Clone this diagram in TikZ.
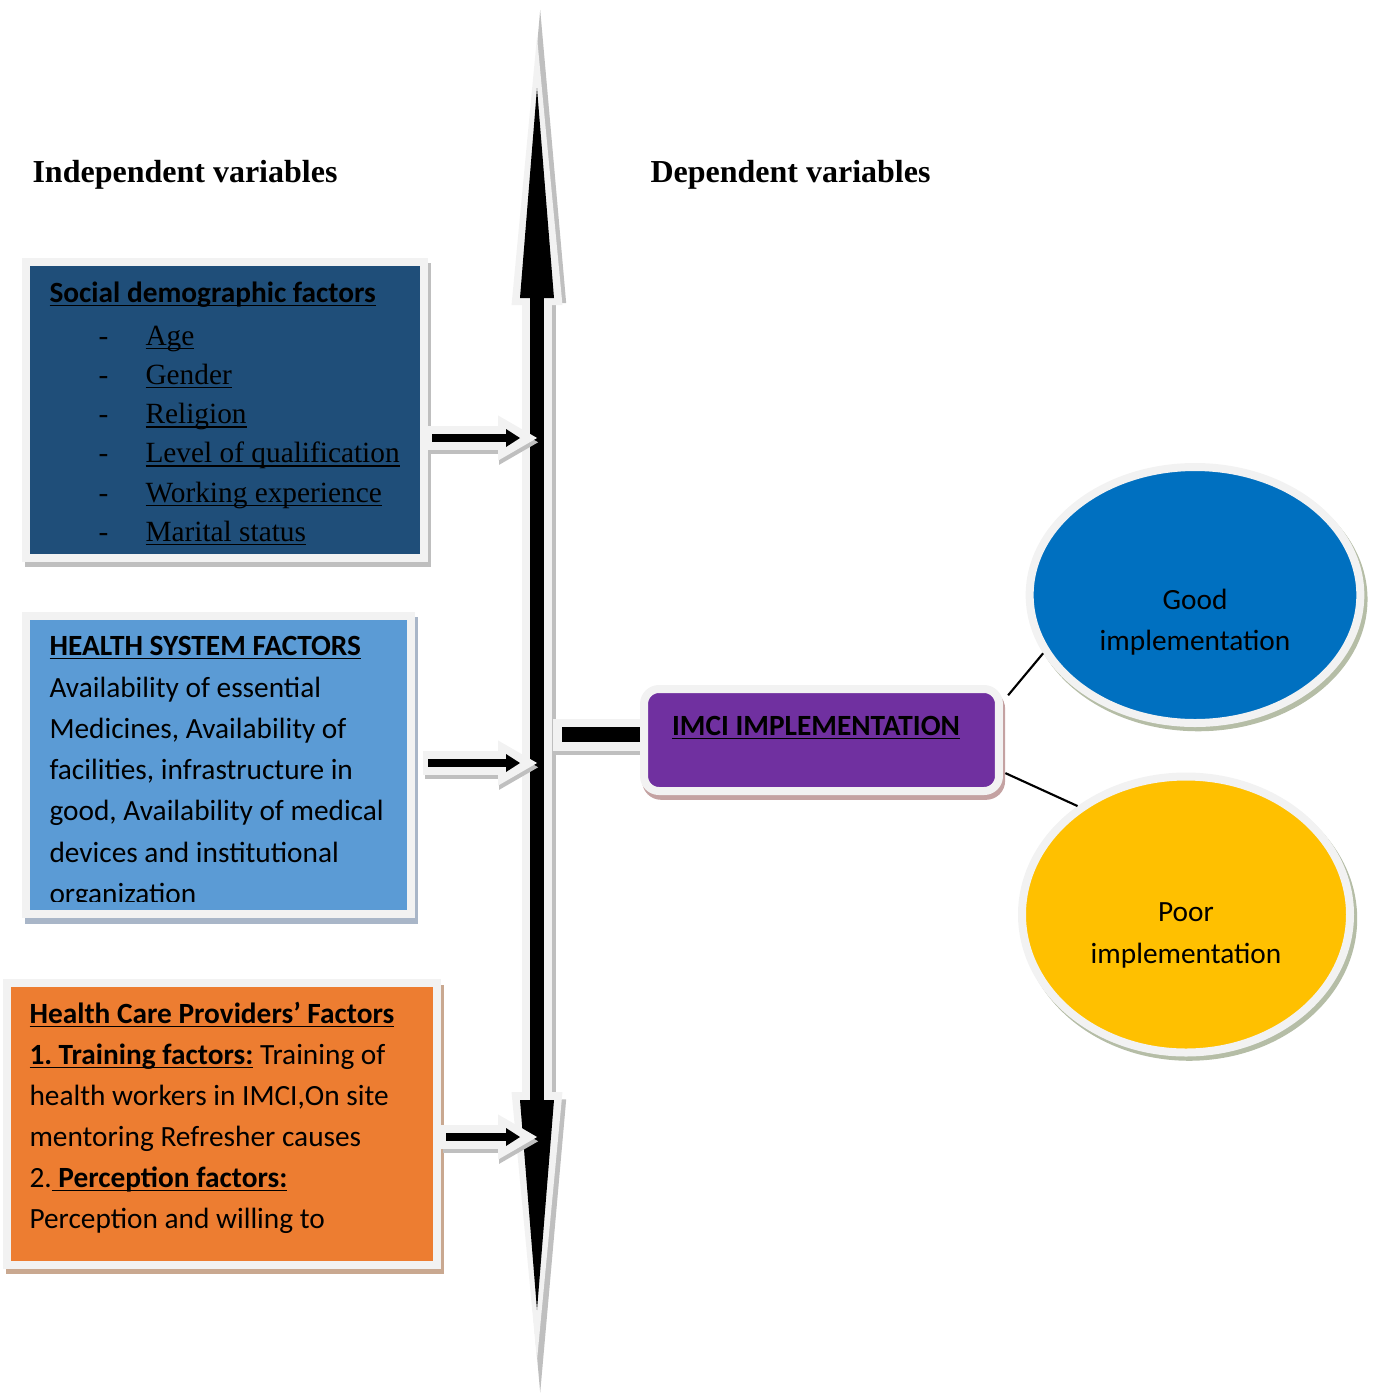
\documentclass[tikz,border=0pt]{standalone}
\usepackage{fontspec}
\setmainfont{Liberation Serif}
\newfontfamily\calibri{Carlito}
\usepackage{xcolor}
\usetikzlibrary{arrows.meta,shapes.geometric,shadows}

\newcommand{\undl}[1]{\leavevmode\setbox0\hbox{#1}\rlap{\copy0}\rule[-1.5pt]{\wd0}{0.55pt}}

\definecolor{sdblue}{HTML}{1F4E79}
\definecolor{hsblue}{HTML}{5B9BD5}
\definecolor{hcorange}{HTML}{ED7D31}
\definecolor{imcipurple}{HTML}{7030A0}
\definecolor{goodblue}{HTML}{0070C0}
\definecolor{pooryellow}{HTML}{FFC000}
\definecolor{rim}{HTML}{F2F2F2}
\definecolor{rimshade}{HTML}{BFBFBF}
\definecolor{blueshade}{HTML}{A9B6C8}
\definecolor{orangeshade}{HTML}{C9A890}
\definecolor{purpleshade}{HTML}{C4A2A2}
\definecolor{ovalshade}{HTML}{B5BDA6}

\begin{document}
\begin{tikzpicture}[x=0.375pt, y=-0.375pt]
	\useasboundingbox (0,0) rectangle (1373,1394);
	% Define styles
	\tikzstyle{fact}=[rectangle, draw=rim, line width=3pt, inner sep=0pt]
	\tikzstyle{outc}=[ellipse, draw=rim, line width=3pt, inner sep=0pt, general shadow={fill=ovalshade, draw=ovalshade, line width=3pt, shadow xshift=1.2pt, shadow yshift=-1.6pt}]
	\tikzstyle{hdr}=[anchor=base west, inner sep=0pt, font=\fontsize{12}{14}\selectfont\bfseries]
	\tikzstyle{cal}=[anchor=base west, inner sep=0pt, font=\calibri\fontsize{11}{13}\selectfont]
	\tikzstyle{calb}=[anchor=base west, inner sep=0pt, font=\calibri\bfseries\fontsize{11}{13}\selectfont]
	\tikzstyle{tnr}=[anchor=base west, inner sep=0pt, font=\fontsize{11}{13}\selectfont]
	\tikzstyle{feed}=[draw=black, line width=3pt, -{Triangle[length=5.25pt, width=6.75pt, line width=0pt]}]
	\tikzstyle{feedrim}=[draw=rim, line width=9pt, -{Triangle[length=14.6pt, width=16.9pt, line width=0pt]}]
	\tikzstyle{feedshade}=[draw=rimshade, line width=9pt, -{Triangle[length=14.6pt, width=16.9pt, line width=0pt]}]
	\tikzstyle{link}=[draw=black, line width=0.8pt]

	% headings
	\node[hdr] (indep) at (32,182) {Independent variables};
	\node[hdr] (dep) at (650,182) {Dependent variables};

	% vertical double arrow
	\coordinate (axtop) at (537,88);
	\coordinate (axbot) at (537,1310);
	\draw[draw=rimshade, line width=11.6pt, {Triangle[length=110pt, width=19.5pt, line width=0pt]}-{Triangle[length=110pt, width=19.5pt, line width=0pt]}]
		([shift={(1.2pt,-31pt)}]axbot) -- ([shift={(1.2pt,29.3pt)}]axtop);
	\draw[draw=rim, line width=11.6pt, {Triangle[length=100.5pt, width=19.1pt, line width=0pt]}-{Triangle[length=100.5pt, width=19.1pt, line width=0pt]}]
		([yshift=-18.8pt]axbot) -- ([yshift=19.1pt]axtop);
	\draw[draw=black, line width=4.9pt, {Triangle[length=78.75pt, width=12.75pt, line width=0pt]}-{Triangle[length=78.75pt, width=12.75pt, line width=0pt]}]
		(axbot) -- (axtop);

	% factor boxes
	\node[fact, fill=sdblue, minimum width=149.25pt, minimum height=111pt, general shadow={fill=rimshade, draw=rimshade, line width=3pt, shadow xshift=1.2pt, shadow yshift=-2pt}] (social) at (225,410) {};
	\node[fact, fill=hsblue, minimum width=144.4pt, minimum height=112.1pt, general shadow={fill=blueshade, draw=blueshade, line width=3pt, shadow xshift=1.2pt, shadow yshift=-2pt}] (system) at (218.5,765) {};
	\node[fact, fill=hcorange, minimum width=161.4pt, minimum height=105.4pt, general shadow={fill=orangeshade, draw=orangeshade, line width=3pt, shadow xshift=1.2pt, shadow yshift=-2pt}] (provider) at (222,1124) {};

	\node[calb] (sdhead) at (49,302) {\undl{Social demographic factors}};
	\foreach \sdname [count=\i] in {Age, Gender, Religion, Level of qualification, Working experience, Marital status} {
		\node[tnr] (dash\i) at (98,{306+39.2*\i}) {-};
		\node[tnr] (sd\i) at (145,{306+39.2*\i}) {\undl{\sdname}};
	}

	\node[calb] (hshead) at (49,655) {\undl{HEALTH SYSTEM FACTORS}};
	\node[cal] (hs1) at (49,697) {Availability of essential};
	\node[cal] (hs2) at (49,738) {Medicines, Availability of};
	\node[cal] (hs3) at (49,779) {facilities, infrastructure in};
	\node[cal] (hs4) at (49,820) {good, Availability of medical};
	\node[cal] (hs5) at (49,862) {devices and institutional};
	\begin{scope}
		\clip (30,619) rectangle (407,901);
		\node[cal] (hs6) at (49,903) {organization};
	\end{scope}

	\node[calb] (hchead) at (29,1023) {\undl{Health Care Providers’ Factors}};
	\node[cal] (hc1) at (29,1064) {{\bfseries\undl{1.\hspace{0.22em}Training factors:}} Training of};
	\node[cal] (hc2) at (29,1105) {health workers in IMCI,On site};
	\node[cal] (hc3) at (29,1146) {mentoring Refresher causes};
	\node[cal] (hc4) at (29,1187) {2.{\bfseries\undl{ Perception factors:}}};
	\node[cal] (hc5) at (29,1228) {Perception and willing to};

	% arrows into the axis
	\coordinate (in1) at (520,438);
	\coordinate (in2) at (520,763);
	\coordinate (in3) at (520,1137);
	\foreach \src/\tip/\gap in {social/in1/1.5, system/in2/4.9, provider/in3/1.9} {
		\draw[feedshade, shorten <=\gap pt-1.5pt] ([shift={(0.4pt,-1.6pt)}]\src.east |- \tip) -- ([shift={(6.8pt,-1.6pt)}]\tip);
		\draw[feedrim, shorten <=\gap pt-2pt] (\src.east |- \tip) -- ([xshift=6.4pt]\tip);
		\draw[feed, shorten <=\gap pt] (\src.east |- \tip) -- (\tip);
	}

	% outcome side
	\node[outc, fill=goodblue, minimum width=124pt, minimum height=96pt] (good) at (1195,595) {};
	\node[outc, fill=pooryellow, minimum width=123pt, minimum height=103.5pt] (poor) at (1186,914.5) {};
	\node[cal, anchor=base] (goodt1) at (1195,609) {Good};
	\node[cal, anchor=base] (goodt2) at (1195,650) {implementation};
	\node[cal, anchor=base] (poort1) at (1186,921) {Poor};
	\node[cal, anchor=base] (poort2) at (1186,963) {implementation};

	\coordinate (bar) at (553,734.5);
	\draw[draw=rimshade, line width=12pt] ([yshift=-1.6pt]bar) -- ([yshift=-1.6pt]640,734.5);
	\draw[draw=rim, line width=12pt] (bar) -- (644,734.5);
	\node[fact, rounded corners=5.6pt, fill=imcipurple, minimum width=133.1pt, minimum height=38.25pt, general shadow={fill=purpleshade, draw=purpleshade, line width=3pt, shadow xshift=0.8pt, shadow yshift=-1.8pt}] (imci) at (821.5,740) {};
	\draw[draw=black, line width=5.6pt] ([xshift=3.4pt]bar) -- (imci.west |- bar);
	\node[calb, anchor=base] (imcit) at (816,735) {\undl{IMCI IMPLEMENTATION}};

	\draw[link, shorten <=3pt] (imci.12) -- (good.201);
	\draw[link, shorten <=1pt] (imci.-10) -- (poor.135);
\end{tikzpicture}
\end{document}
